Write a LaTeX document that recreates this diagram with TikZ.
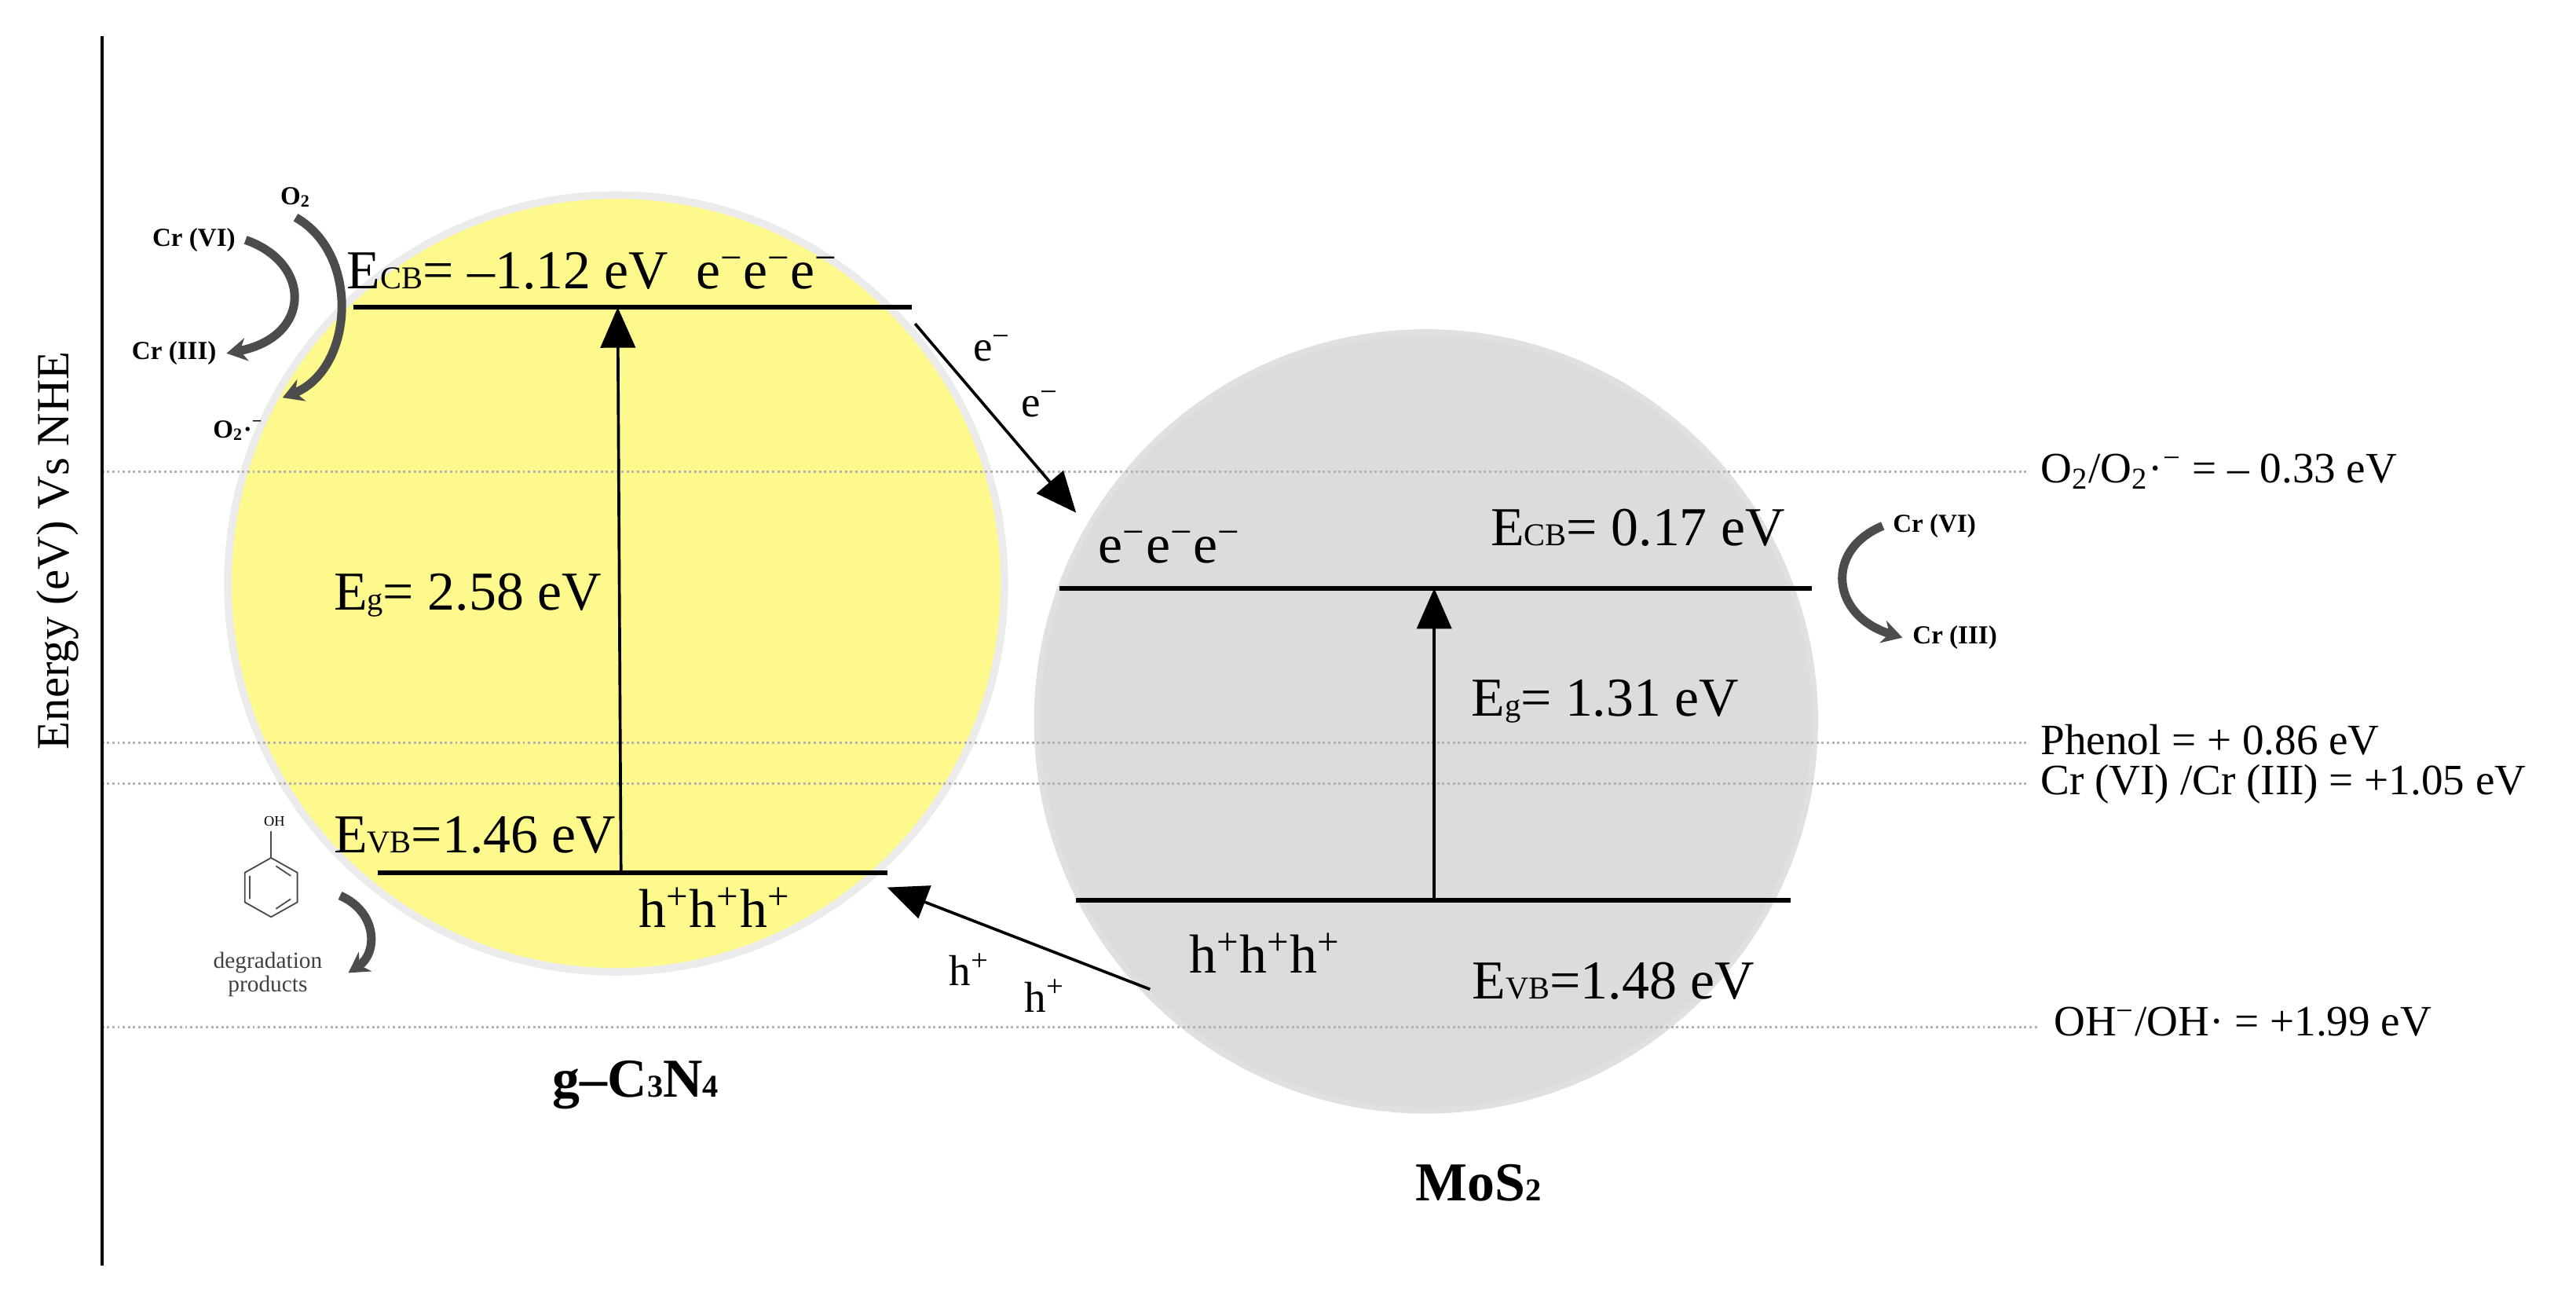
\documentclass[tikz,border=0pt]{standalone}
\usepackage{fontspec}
\setmainfont{Liberation Serif}
\usetikzlibrary{arrows.meta}
\definecolor{yel}{RGB}{253,249,140}
\definecolor{gr}{RGB}{220,220,220}
\newcommand{\myfs}[1]{\fontsize{#1}{#1}\selectfont}
\newcommand{\mysub}[1]{{\myfs{11}#1}}
\newcommand{\mym}{\textsuperscript{−}}
\newcommand{\myp}{\textsuperscript{+}}
\begin{document}
\begin{tikzpicture}[x=0.02cm,y=-0.02cm,
  band/.style={line width=1.6pt},
  dotl/.style={gray!60,line width=0.8pt,densely dotted},
  big/.style={font=\myfs{19}},
  mid/.style={font=\myfs{15}},
  small/.style={font=\bfseries\myfs{9}},
  tip/.style={-{Triangle[length=14pt,width=12pt]}},
  curv/.style={line width=3pt,black!70,-{Stealth[length=7pt,width=8pt]}}]
\useasboundingbox (0,0) rectangle (1568,789);
% circles
\draw[black,line width=3pt,opacity=0.08] (375,355) circle (236);
\fill[yel] (375,355) circle (234);
\draw[gr!70!black,line width=3pt,opacity=0.3] (868,439) circle (236);
\fill[gr] (868,439) circle (235);
% dotted levels
\draw[dotl] (62,287) -- (1235,287);
\draw[dotl] (62,452) -- (1235,452);
\draw[dotl] (62,477) -- (1235,477);
\draw[dotl] (62,625) -- (1240,625);
% axis
\draw[line width=1pt] (62,22) -- (62,770);
\node[rotate=90,font=\myfs{16}] (ax) at (35,335) {Energy (eV) Vs NHE};
% g-C3N4 bands
\draw[band] (215,187) coordinate (c1a) -- (555,187) coordinate (c1b);
\draw[band] (230,531) coordinate (v1a) -- (540,531) coordinate (v1b);
\coordinate (a1s) at (378,531); \coordinate (a1e) at (376,187);
\draw[line width=1pt,tip] (a1s) -- (a1e);
\node[big,anchor=west] (ecb1) at (205,165) {E\mysub{CB}= –1.12 eV\ \ e\mym e\mym e\mym};
\node[big,anchor=west] (eg1) at (197,362) {E\mysub{g}= 2.58 eV};
\node[big,anchor=west] (evb1) at (197,508) {E\mysub{VB}=1.46 eV};
\node[big] (h1) at (435,552) {h\myp h\myp h\myp};
\node[font=\bfseries\myfs{19}] (gcn) at (387,660) {g–C\mysub{3}N\mysub{4}};
% MoS2 bands
\draw[band] (645,358) -- (1103,358);
\draw[band] (655,548) -- (1090,548);
\coordinate (a2s) at (873,548); \coordinate (a2e) at (873,358);
\draw[line width=1pt,tip] (a2s) -- (a2e);
\node[big] (e2) at (712,333) {e\mym e\mym e\mym};
\node[big] (ecb2) at (997,321) {E\mysub{CB}= 0.17 eV};
\node[big] (eg2) at (977,427) {E\mysub{g}= 1.31 eV};
\node[big] (h2) at (770,580) {h\myp h\myp h\myp};
\node[big] (evb2) at (982,597) {E\mysub{VB}=1.48 eV};
\node[font=\bfseries\myfs{19}] (mos) at (900,720) {MoS\mysub{2}};
% transfer arrows
\coordinate (t1) at (557,197); \coordinate (t2) at (655,312);
\draw[line width=1pt,tip] (t1) -- (t2);
\node[mid] (em1) at (604,212) {e\mym};
\node[mid] (em2) at (633,246) {e\mym};
\coordinate (t3) at (700,602); \coordinate (t4) at (540,540);
\draw[line width=1pt,tip] (t3) -- (t4);
\node[mid] (hp1) at (590,590) {h\myp};
\node[mid] (hp2) at (636,606) {h\myp};
% right labels
\node[mid,anchor=west] (l1) at (1236,287) {O\textsubscript{2}/O\textsubscript{2}·\mym{} = – 0.33 eV};
\node[mid,anchor=west] (l2) at (1236,450) {Phenol = + 0.86 eV};
\node[mid,anchor=west] (l3) at (1236,477) {Cr (VI) /Cr (III) = +1.05 eV};
\node[mid,anchor=west] (l4) at (1244,622) {OH\mym/OH· = +1.99 eV};
% right Cr cycle
\node[small,anchor=west] (crvi) at (1146,320) {Cr (VI)};
\node[small,anchor=west] (criii) at (1158,388) {Cr (III)};
\draw[curv] (crvi.west) .. controls (1110,335) and (1115,375) .. (criii.west);
% left Cr / O2 cycle
\node[small] (crvi2) at (118,146) {Cr (VI)};
\node[small] (o2) at (180,120) {O\textsubscript{2}};
\node[small] (criii2) at (106,215) {Cr (III)};
\node[small] (o2m) at (145,262) {O\textsubscript{2}·\mym};
\draw[curv] (crvi2.east) .. controls (190,160) and (190,205) .. (criii2.east);
\draw[curv] (o2.south) .. controls (220,155) and (215,225) .. (172,242);
% phenol
\draw[line width=0.5pt,black!70] (165,522)--(181,531)--(181,549)--(165,558)--(149,549)--(149,531)--cycle;
\draw[line width=0.5pt,black!70] (165,522) -- (165,506);
\draw[line width=0.5pt,black!70] (168,527)--(177,533) (177,547)--(168,553) (152,533)--(152,547);
\node[font=\myfs{5}] (oh) at (167,500) {OH};
\node[font=\myfs{8},align=center,text=black!75] (deg) at (163,593) {degradation\\products};
\draw[curv] (207,545) .. controls (230,555) and (230,580) .. (212,592);
\end{tikzpicture}
\end{document}
